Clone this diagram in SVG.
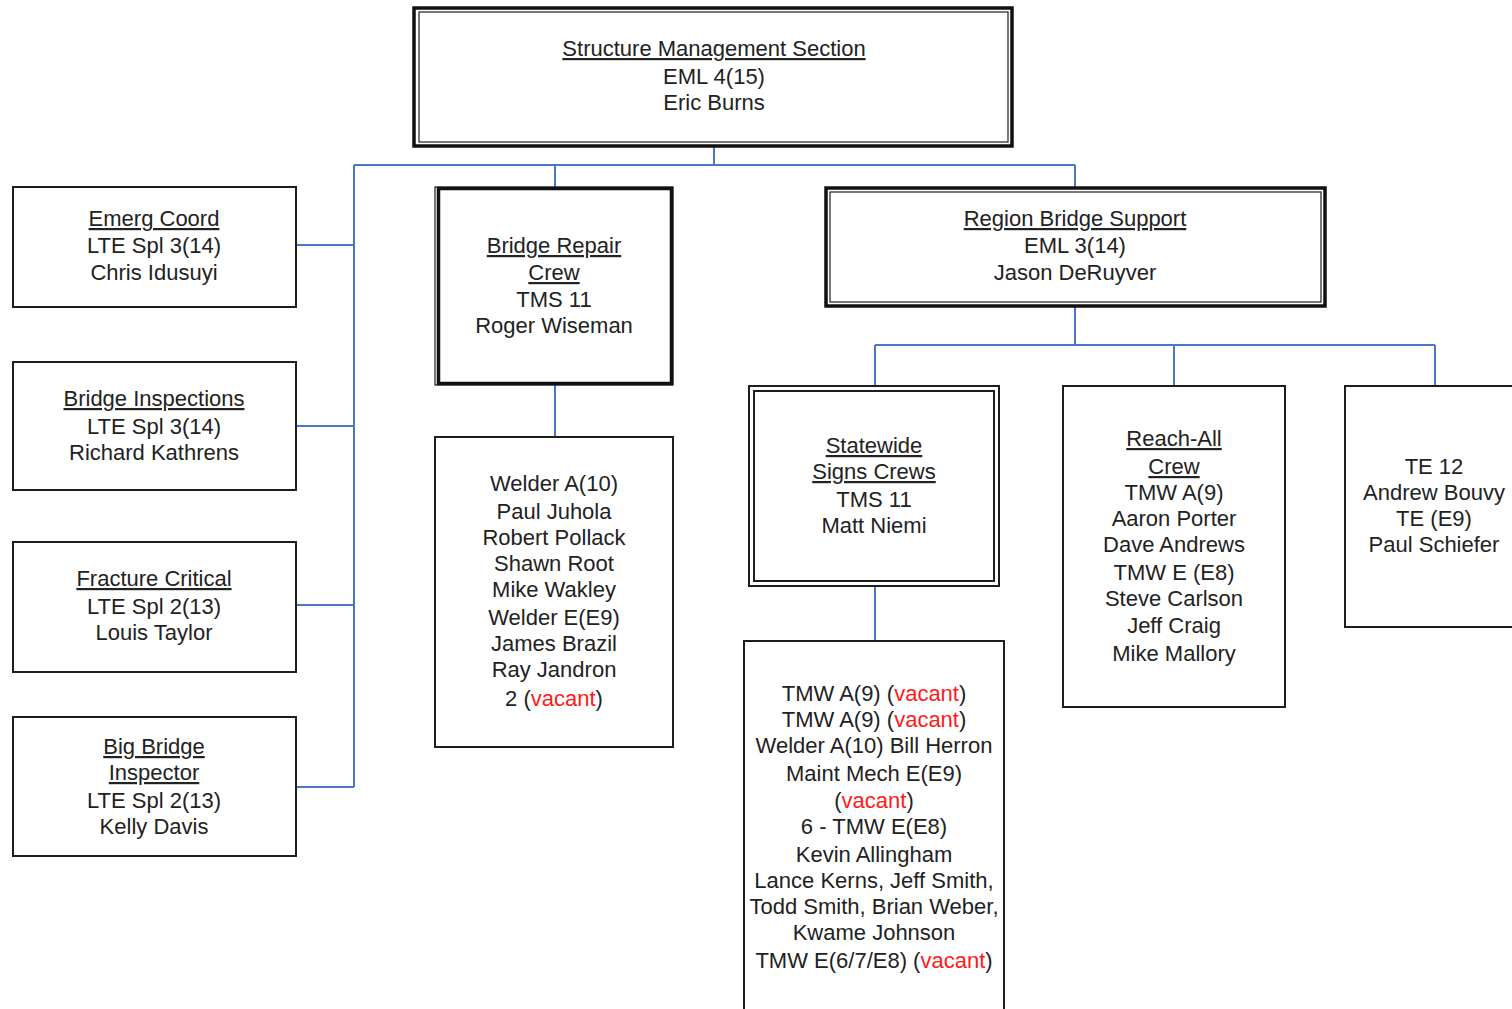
<svg xmlns="http://www.w3.org/2000/svg" width="1512" height="1009" viewBox="0 0 1512 1009">
<style>
.bg{fill:#fff}
.box{fill:#fff;stroke:#1e1e1e;stroke-width:2}
.thin{fill:none;stroke:#1e1e1e;stroke-width:1.2}
.thick{fill:#fff;stroke:#111;stroke-width:3.5}
.t{font-family:"Liberation Sans",Arial,sans-serif;font-size:22px;fill:#222;text-anchor:middle}
.h{text-decoration:underline}
.v{fill:#ff1a1a}
.c{fill:none;stroke:#4a78c6;stroke-width:2}
</style>
<rect class="bg" x="0" y="0" width="1512" height="1009"/>
<g id="connectors">
<path class="c" d="M714 147V165M354 165H1075M555 165V187M1075 165V187"/>
<path class="c" d="M354 165V787M296 245H354M296 426H354M296 605H354M296 787H354"/>
<path class="c" d="M555 385V437"/>
<path class="c" d="M1075 307V345M875 345H1435M875 345V386M1174 345V386M1435 345V386"/>
<path class="c" d="M875 586V641"/>
</g>
<g id="structure-management">
<rect class="thick" x="414" y="8" width="598" height="138"/>
<rect class="thin" x="419" y="12" width="589" height="130"/>
<text class="t h" x="714" y="56">Structure Management Section</text>
<text class="t" x="714" y="84">EML 4(15)</text>
<text class="t" x="714" y="110">Eric Burns</text>
</g>
<g id="emerg-coord">
<rect class="box" x="13" y="187" width="283" height="120"/>
<text class="t h" x="154" y="226">Emerg Coord</text>
<text class="t" x="154" y="253">LTE Spl 3(14)</text>
<text class="t" x="154" y="280">Chris Idusuyi</text>
</g>
<g id="bridge-inspections">
<rect class="box" x="13" y="362" width="283" height="128"/>
<text class="t h" x="154" y="406">Bridge Inspections</text>
<text class="t" x="154" y="434">LTE Spl 3(14)</text>
<text class="t" x="154" y="460">Richard Kathrens</text>
</g>
<g id="fracture-critical">
<rect class="box" x="13" y="542" width="283" height="130"/>
<text class="t h" x="154" y="586">Fracture Critical</text>
<text class="t" x="154" y="614">LTE Spl 2(13)</text>
<text class="t" x="154" y="640">Louis Taylor</text>
</g>
<g id="big-bridge-inspector">
<rect class="box" x="13" y="717" width="283" height="139"/>
<text class="t h" x="154" y="754">Big Bridge</text>
<text class="t h" x="154" y="780">Inspector</text>
<text class="t" x="154" y="808">LTE Spl 2(13)</text>
<text class="t" x="154" y="834">Kelly Davis</text>
</g>
<g id="bridge-repair-crew">
<rect class="thin" x="435" y="187" width="238" height="198"/>
<rect class="thick" x="438.5" y="188.5" width="233" height="195"/>
<text class="t h" x="554" y="253">Bridge Repair</text>
<text class="t h" x="554" y="280">Crew</text>
<text class="t" x="554" y="307">TMS 11</text>
<text class="t" x="554" y="333">Roger Wiseman</text>
</g>
<g id="bridge-repair-staff">
<rect class="box" x="435" y="437" width="238" height="310"/>
<text class="t" x="554" y="491">Welder A(10)</text>
<text class="t" x="554" y="519">Paul Juhola</text>
<text class="t" x="554" y="545">Robert Pollack</text>
<text class="t" x="554" y="571">Shawn Root</text>
<text class="t" x="554" y="597">Mike Wakley</text>
<text class="t" x="554" y="625">Welder E(E9)</text>
<text class="t" x="554" y="651">James Brazil</text>
<text class="t" x="554" y="677">Ray Jandron</text>
<text class="t" x="554" y="706">2 (<tspan class="v">vacant</tspan>)</text>
</g>
<g id="region-bridge-support">
<rect class="thick" x="826" y="188" width="499" height="118"/>
<rect class="thin" x="830" y="192" width="491" height="110"/>
<text class="t h" x="1075" y="226">Region Bridge Support</text>
<text class="t" x="1075" y="253">EML 3(14)</text>
<text class="t" x="1075" y="280">Jason DeRuyver</text>
</g>
<g id="statewide-signs-crews">
<rect class="box" x="749" y="386" width="250" height="200"/>
<rect class="box" x="754" y="391" width="240" height="190"/>
<text class="t h" x="874" y="453">Statewide</text>
<text class="t h" x="874" y="479">Signs Crews</text>
<text class="t" x="874" y="507">TMS 11</text>
<text class="t" x="874" y="533">Matt Niemi</text>
</g>
<g id="signs-staff">
<rect class="box" x="744" y="641" width="260" height="380"/>
<text class="t" x="874" y="701">TMW A(9) (<tspan class="v">vacant</tspan>)</text>
<text class="t" x="874" y="727">TMW A(9) (<tspan class="v">vacant</tspan>)</text>
<text class="t" x="874" y="753">Welder A(10) Bill Herron</text>
<text class="t" x="874" y="781">Maint Mech E(E9)</text>
<text class="t" x="874" y="808">(<tspan class="v">vacant</tspan>)</text>
<text class="t" x="874" y="834">6 - TMW E(E8)</text>
<text class="t" x="874" y="862">Kevin Allingham</text>
<text class="t" x="874" y="888">Lance Kerns, Jeff Smith,</text>
<text class="t" x="874" y="914">Todd Smith, Brian Weber,</text>
<text class="t" x="874" y="940">Kwame Johnson</text>
<text class="t" x="874" y="968">TMW E(6/7/E8) (<tspan class="v">vacant</tspan>)</text>
</g>
<g id="reach-all-crew">
<rect class="box" x="1063" y="386" width="222" height="321"/>
<text class="t h" x="1174" y="446">Reach-All</text>
<text class="t h" x="1174" y="474">Crew</text>
<text class="t" x="1174" y="500">TMW A(9)</text>
<text class="t" x="1174" y="526">Aaron Porter</text>
<text class="t" x="1174" y="552">Dave Andrews</text>
<text class="t" x="1174" y="580">TMW E (E8)</text>
<text class="t" x="1174" y="606">Steve Carlson</text>
<text class="t" x="1174" y="633">Jeff Craig</text>
<text class="t" x="1174" y="661">Mike Mallory</text>
</g>
<g id="te-12">
<rect class="box" x="1345" y="386" width="200" height="241"/>
<text class="t" x="1434" y="474">TE 12</text>
<text class="t" x="1434" y="500">Andrew Bouvy</text>
<text class="t" x="1434" y="526">TE (E9)</text>
<text class="t" x="1434" y="552">Paul Schiefer</text>
</g>
</svg>
